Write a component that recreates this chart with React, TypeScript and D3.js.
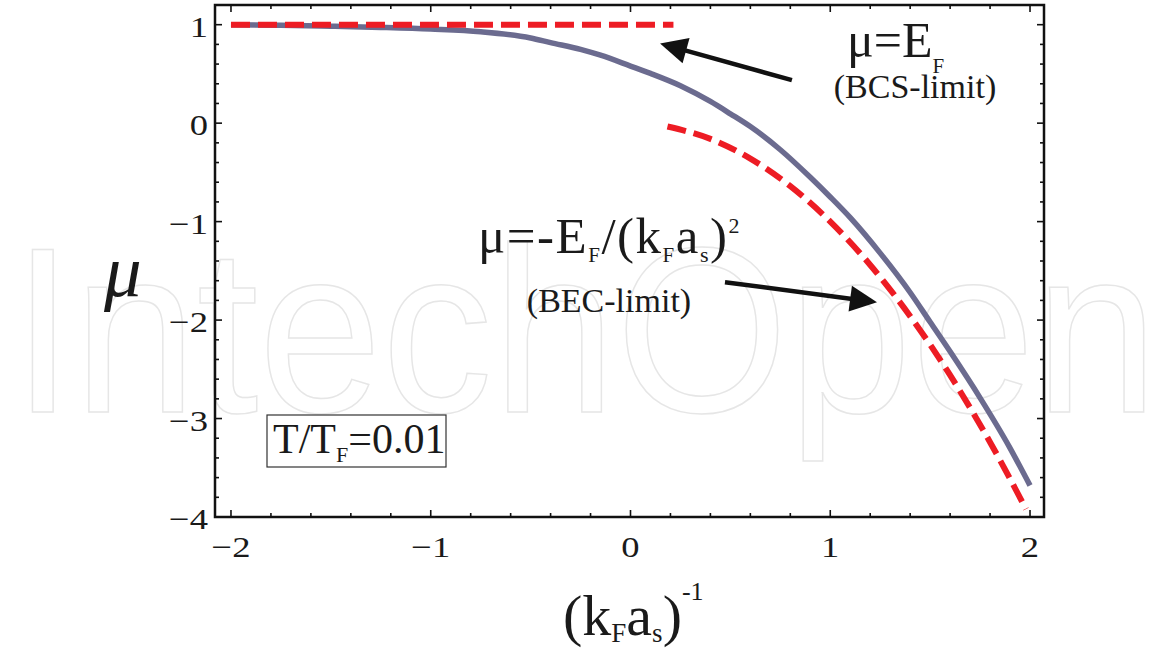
import React from 'react';
import * as d3 from 'd3';

const W = 1151, H = 656;

// axis ticks
const xMajor = [-2, -1, 0, 1, 2];
const yMajor = [1, 0, -1, -2, -3, -4];
const xLabels = ['−2', '−1', '0', '1', '2'];
const yLabels = ['1', '0', '−1', '−2', '−3', '−4'];

// full chemical potential curve (solid)
const muX = [-2, -1.75, -1.5, -1.25, -1.0, -0.75, -0.5, -0.4, -0.25, -0.15, 0, 0.1, 0.25, 0.4, 0.5, 0.6, 0.75, 0.9, 1.0, 1.1, 1.25, 1.4, 1.5, 1.6, 1.75, 1.9, 2.0];
const muY = [1.0, 0.995, 0.985, 0.972, 0.955, 0.928, 0.865, 0.818, 0.75, 0.69, 0.58, 0.505, 0.38, 0.22, 0.095, -0.035, -0.27, -0.55, -0.75, -0.96, -1.32, -1.72, -2.02, -2.32, -2.79, -3.3, -3.68];

// BCS limit (dashed)
const bcsX = [-2, 0.215];
const bcsY = [1, 1];

// BEC limit (dashed)
const becX = [0.185, 0.4, 0.6, 0.8, 1.0, 1.2, 1.4, 1.6, 1.8, 1.98];
const becY = [-0.034, -0.16, -0.36, -0.64, -1.0, -1.44, -1.96, -2.56, -3.24, -3.92];

// annotation arrows in data coordinates [fromX, fromY, toX, toY]
const arrowBCS = [0.808, 0.437, 0.148, 0.81];
const arrowBEC = [0.473, -1.615, 1.234, -1.818];

const RED = '#ed1c24';
const BLUE = '#6b6b8f';
const SERIF = "'Liberation Serif', 'Times New Roman', serif";

export default function App() {
  const x = d3.scaleLinear().domain([-2.08, 2.07]).range([215, 1044]);
  const y = d3.scaleLinear().domain([-4, 1.2]).range([517, 5]);
  const [x0, x1] = x.range();
  const [y0, y1] = y.range();

  const line = d3.line<[number, number]>().x(d => x(d[0])).y(d => y(d[1])).curve(d3.curveMonotoneX);
  const lin = d3.line<[number, number]>().x(d => x(d[0])).y(d => y(d[1]));

  const muPts = muX.map((v, i) => [v, muY[i]] as [number, number]);
  const bcsPts = bcsX.map((v, i) => [v, bcsY[i]] as [number, number]);
  const becPts = becX.map((v, i) => [v, becY[i]] as [number, number]);

  const xMinor = d3.range(-2, 2.001, 0.2).map(v => +v.toFixed(2));
  const yMinor = d3.range(-4, 1.001, 0.2).map(v => +v.toFixed(2));
  const isMajor = (v: number) => Math.abs(v - Math.round(v)) < 1e-6;

  const arrow = (a: number[], key: string) => {
    const sx = x(a[0]), sy = y(a[1]), tx = x(a[2]), ty = y(a[3]);
    const dx = tx - sx, dy = ty - sy;
    const L = Math.hypot(dx, dy);
    const ux = dx / L, uy = dy / L;
    const hl = 27, hw = 13;
    const bx = tx - ux * hl, by = ty - uy * hl;
    const pts = [[tx, ty], [bx - uy * hw, by + ux * hw], [bx + uy * hw, by - ux * hw]];
    return (
      <g key={key}>
        <line x1={sx} y1={sy} x2={bx + ux * 2} y2={by + uy * 2} stroke="#111" strokeWidth={4.5} />
        <polygon points={pts.map(p => p.join(',')).join(' ')} fill="#111" />
      </g>
    );
  };

  const ts: React.CSSProperties = { fontFamily: SERIF };

  return (
    <svg width={W} height={H} style={{ position: 'absolute', left: 0, top: 0, background: '#fff', fontFamily: SERIF }}>
      <rect x={0} y={0} width={W} height={H} fill="#fff" />
      {/* watermark */}
      <text x={12} y={412} fontSize={236} style={{ fontFamily: "'Liberation Sans', Arial, sans-serif" }}
        fill="none" stroke="#e6e6e6" strokeWidth={1.5} textLength={1146} lengthAdjust="spacingAndGlyphs">IntechOpen</text>

      {/* ticks */}
      {xMinor.map(v => {
        const len = isMajor(v) ? 7 : 4;
        return (
          <g key={'xt' + v}>
            <line x1={x(v)} x2={x(v)} y1={y0} y2={y0 - len} stroke="#111" strokeWidth={1.6} />
            <line x1={x(v)} x2={x(v)} y1={y1} y2={y1 + len} stroke="#111" strokeWidth={1.6} />
          </g>
        );
      })}
      {yMinor.map(v => {
        const len = isMajor(v) ? 7 : 4;
        return (
          <g key={'yt' + v}>
            <line x1={x0} x2={x0 + len} y1={y(v)} y2={y(v)} stroke="#111" strokeWidth={1.6} />
            <line x1={x1} x2={x1 - len} y1={y(v)} y2={y(v)} stroke="#111" strokeWidth={1.6} />
          </g>
        );
      })}

      {/* curves */}
      <path d={line(muPts) || ''} fill="none" stroke={BLUE} strokeWidth={5.5} />
      <path d={lin(bcsPts) || ''} fill="none" stroke={RED} strokeWidth={6} strokeDasharray="19 8" />
      <path d={line(becPts) || ''} fill="none" stroke={RED} strokeWidth={6} strokeDasharray="19 8" />

      {/* frame */}
      <rect x={x0} y={y1} width={x1 - x0} height={y0 - y1} fill="none" stroke="#111" strokeWidth={2.5} />

      {/* tick labels */}
      {xMajor.map((v, i) => (
        <text key={'xl' + v} transform={`translate(${x(v)},557) scale(1.22,1)`} fontSize={30} textAnchor="middle" fill="#1a1a1a" style={ts}>{xLabels[i]}</text>
      ))}
      {yMajor.map((v, i) => (
        <text key={'yl' + v} transform={`translate(208,${y(v) + 12}) scale(1.22,1)`} fontSize={30} textAnchor="end" fill="#1a1a1a" style={ts}>{yLabels[i]}</text>
      ))}

      {/* axis titles */}
      <text x={104} y={296} fontSize={75} fontStyle="italic" fill="#1a1a1a" style={ts}>μ</text>
      <text x={563} y={635} fontSize={58} fill="#1a1a1a" style={ts}>
        (k<tspan fontSize={27} dy={7}>F</tspan><tspan dy={-7}>a</tspan><tspan fontSize={27} dy={7}>s</tspan><tspan dy={-7}>)</tspan><tspan fontSize={26} dy={-35}>-1</tspan>
      </text>

      {/* annotations */}
      <text x={847} y={57} fontSize={50} fill="#1a1a1a" style={ts}>μ=E<tspan fontSize={21} dy={16}>F</tspan></text>
      <text x={915} y={98} fontSize={34} textAnchor="middle" fill="#1a1a1a" style={ts}>(BCS-limit)</text>
      <text x={478} y={253} fontSize={51} fill="#1a1a1a" style={{ ...ts, letterSpacing: '1.5px' }}>
        μ=-E<tspan fontSize={21} dy={9}>F</tspan><tspan dy={-9}>/(k</tspan><tspan fontSize={21} dy={9}>F</tspan><tspan dy={-9}>a</tspan><tspan fontSize={22} dy={9}>s</tspan><tspan dy={-9}>)</tspan><tspan fontSize={22} dy={-20}>2</tspan>
      </text>
      <text x={609} y={312} fontSize={34} textAnchor="middle" fill="#1a1a1a" style={ts}>(BEC-limit)</text>
      {arrow(arrowBCS, 'a1')}
      {arrow(arrowBEC, 'a2')}

      {/* temperature box */}
      <rect x={267} y={415} width={179} height={52} fill="#fff" stroke="#333" strokeWidth={1.2} />
      <text x={273} y={453} fontSize={42} fill="#1a1a1a" style={ts}>T/T<tspan fontSize={22} dy={9}>F</tspan><tspan dy={-9}>=0.01</tspan></text>
    </svg>
  );
}
